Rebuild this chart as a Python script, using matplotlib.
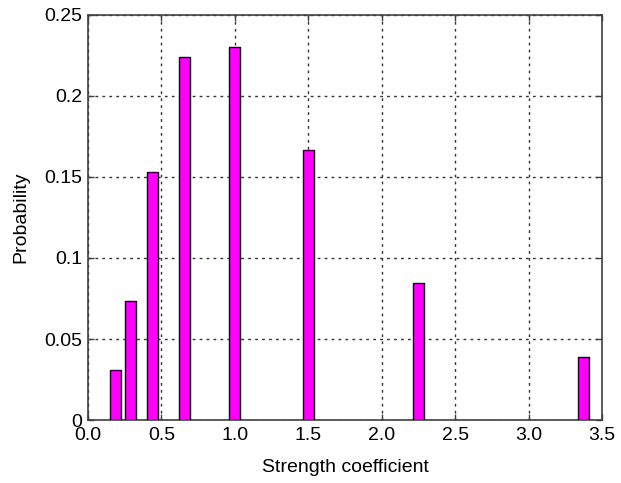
import numpy as np
import matplotlib.pyplot as plt

# bar positions (strength coefficient) and probabilities
strength = [0.19, 0.29, 0.44, 0.66, 1.0, 1.5, 2.25, 3.375]
probability = [0.031, 0.0735, 0.153, 0.2243, 0.2302, 0.1667, 0.0844, 0.039]

xticks = [0.0, 0.5, 1.0, 1.5, 2.0, 2.5, 3.0, 3.5]
xticklabels = ["0.0", "0.5", "1.0", "1.5", "2.0", "2.5", "3.0", "3.5"]
yticks = [0, 0.05, 0.1, 0.15, 0.2, 0.25]
yticklabels = ["0", "0.05", "0.1", "0.15", "0.2", "0.25"]

plt.rcParams['font.family'] = ['Liberation Sans', 'DejaVu Sans']

fig = plt.figure(figsize=(6.21, 4.83), dpi=100)
ax = fig.add_axes([0.1417, 0.1304, 0.8277, 0.8386])

ax.bar(strength, probability, width=0.075, color='#ff00ff',
       edgecolor='black', linewidth=1.0, zorder=3)

ax.set_xlim(0, 3.5)
ax.set_ylim(0, 0.25)
ax.set_xticks(xticks)
ax.set_xticklabels(xticklabels)
ax.set_yticks(yticks)
ax.set_yticklabels(yticklabels)

ax.grid(True, linestyle=(0, (2, 3)), color='#333333', linewidth=1.0, zorder=1)
ax.tick_params(direction='in', length=4, width=1, colors='#404040',
               labelcolor='black', labelsize=14, top=True, right=True)
ax.tick_params(axis='x', pad=5)
ax.tick_params(axis='y', pad=4)

for sp in ax.spines.values():
    sp.set_color('#404040')
    sp.set_linewidth(1.2)

ax.set_xlabel("Strength coefficient", fontsize=14, labelpad=11)
ax.set_ylabel("Probability", fontsize=14, labelpad=11)

plt.savefig('out.png', dpi=100)
plt.close()
